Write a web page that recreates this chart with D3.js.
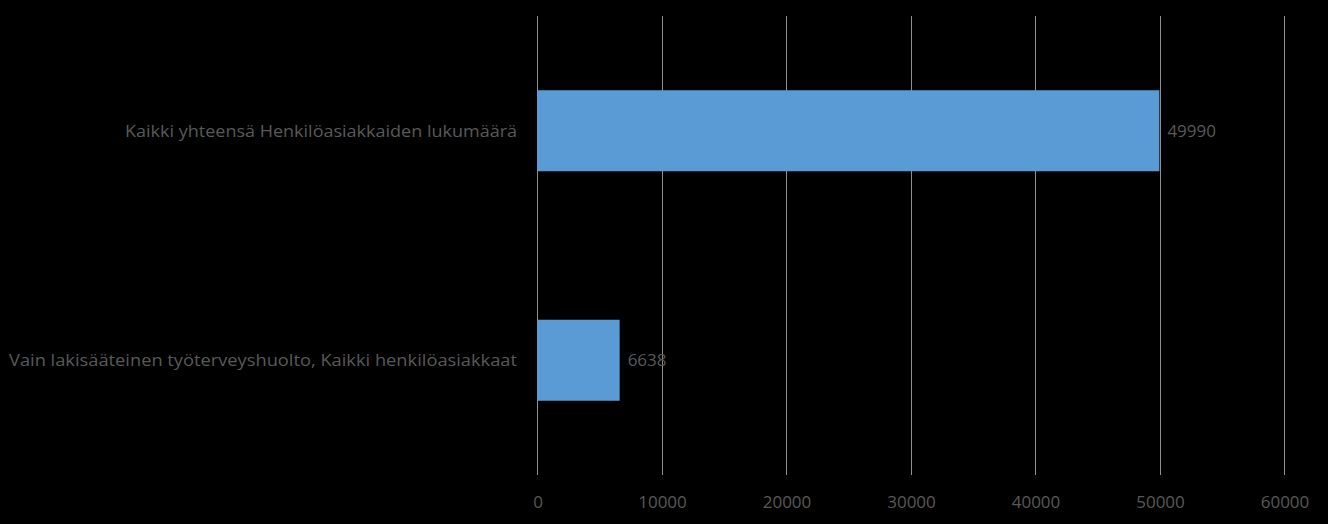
<!DOCTYPE html>
<html>
<head>
  <style>
    body {
      margin: 0;
      background: black;
    }
    text {
      font-family: "Open Sans", "Liberation Sans", sans-serif;
      fill: #595959;
    }
  </style>
</head>
<body>
  <div id="chart"></div>
  <script src="https://d3js.org/d3.v7.min.js"></script>
  <script>
    var width = 1328, height = 524;
    var margin = {top: 16, right: 44, bottom: 49, left: 537};

    var categories = ["Kaikki yhteensä Henkilöasiakkaiden lukumäärä", "Vain lakisääteinen työterveyshuolto, Kaikki henkilöasiakkaat"];
    var values = [49990, 6638];
    var ticks = [0, 10000, 20000, 30000, 40000, 50000, 60000];

    var svg = d3.select("#chart").append("svg")
        .attr("width", width)
        .attr("height", height);

    var x = d3.scaleLinear()
        .domain([0, 60000])
        .range([margin.left, width - margin.right]);

    var y = d3.scaleBand()
        .domain(categories)
        .range([margin.top, height - margin.bottom])
        .paddingInner(0.647)
        .paddingOuter(0.3235);

    // gridlines
    svg.selectAll("line.grid")
        .data(ticks)
      .enter().append("line")
        .attr("class", "grid")
        .attr("x1", d => Math.round(x(d)) + 0.5)
        .attr("x2", d => Math.round(x(d)) + 0.5)
        .attr("y1", margin.top)
        .attr("y2", height - margin.bottom)
        .style("stroke", "#8f8f8f")
        .style("stroke-width", 1);

    // x tick labels
    svg.selectAll("text.tick")
        .data(ticks)
      .enter().append("text")
        .attr("class", "tick")
        .attr("x", d => x(d) + 1)
        .attr("y", 508)
        .attr("text-anchor", "middle")
        .style("font-size", "17px")
        .text(d => d);

    // bars
    svg.selectAll("rect.bar")
        .data(values)
      .enter().append("rect")
        .attr("class", "bar")
        .attr("x", x(0))
        .attr("y", (d, i) => y(categories[i]))
        .attr("width", d => x(d) - x(0))
        .attr("height", y.bandwidth())
        .style("fill", "#5b9bd5");

    // value labels
    svg.selectAll("text.value")
        .data(values)
      .enter().append("text")
        .attr("class", "value")
        .attr("x", d => x(d) + 8)
        .attr("y", (d, i) => y(categories[i]) + y.bandwidth() / 2)
        .attr("dy", "0.35em")
        .style("font-size", "17px")
        .text(d => d);

    // category labels, fitted to the width of the original narrow font
    var labelWidths = [392, 508];
    svg.selectAll("text.cat")
        .data(categories)
      .enter().append("text")
        .attr("class", "cat")
        .attr("x", margin.left - 20)
        .attr("y", d => y(d) + y.bandwidth() / 2)
        .attr("dy", "0.35em")
        .attr("text-anchor", "end")
        .attr("textLength", (d, i) => labelWidths[i])
        .attr("lengthAdjust", "spacingAndGlyphs")
        .style("font-size", "17px")
        .text(d => d);
  </script>
</body>
</html>
